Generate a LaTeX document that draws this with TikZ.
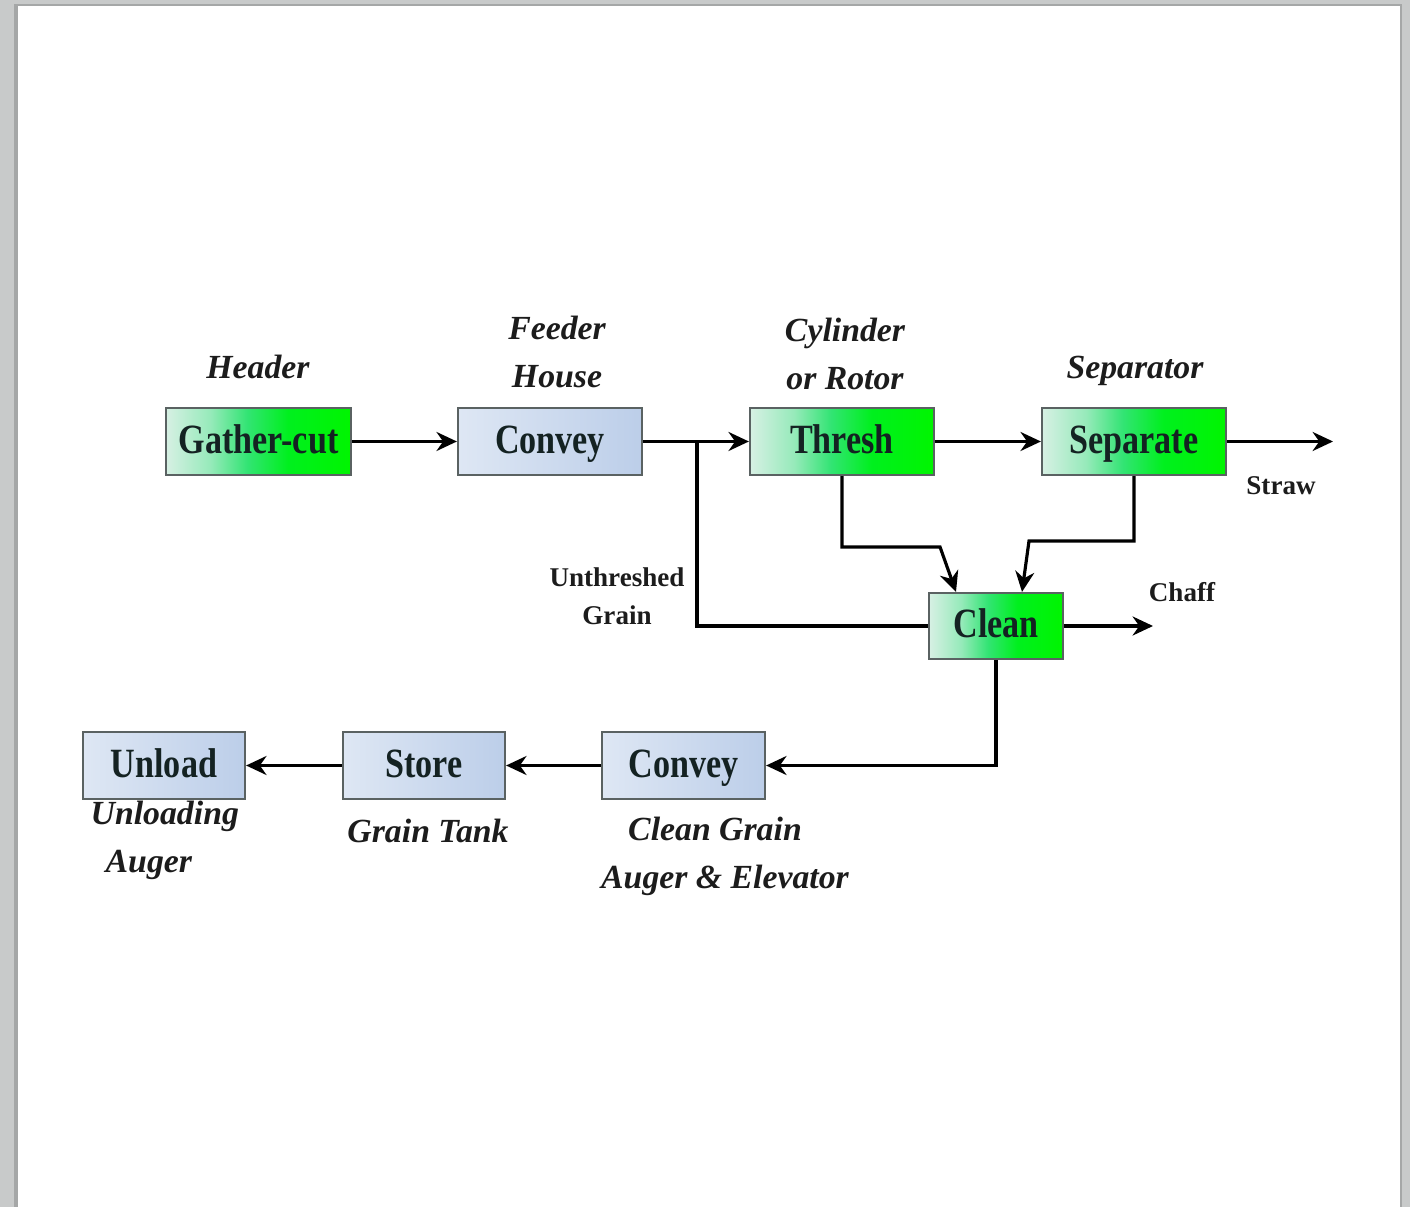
\documentclass[tikz,border=0pt]{standalone}
\usepackage{fontspec}
\usepackage{graphicx}
\setmainfont{Liberation Serif}
\usetikzlibrary{arrows.meta,calc}
\definecolor{pagegray}{RGB}{200,202,202}
\definecolor{shadowgray}{RGB}{165,167,167}
\definecolor{gA}{RGB}{215,240,228}
\definecolor{gB}{RGB}{150,234,186}
\definecolor{gC}{RGB}{50,228,115}
\definecolor{gD}{RGB}{0,240,30}
\definecolor{gE}{RGB}{0,245,0}
\definecolor{bL}{RGB}{222,231,244}
\definecolor{bR}{RGB}{188,206,233}
\definecolor{boxline}{RGB}{90,98,98}
\definecolor{boxtext}{RGB}{20,34,34}
\definecolor{labtext}{RGB}{28,28,28}
\pgfdeclarehorizontalshading{greenfill}{100bp}{color(0bp)=(gA); color(25bp)=(gA); color(37bp)=(gB); color(47bp)=(gC); color(58bp)=(gD); color(75bp)=(gE); color(100bp)=(gE)}
\newcommand{\tallbox}[1]{\scalebox{1}[1.22]{#1}}
\tikzset{
  procbox/.style={draw=boxline, line width=0.6pt, inner sep=0pt, text=boxtext,
    font=\bfseries\fontsize{9.7}{11}\selectfont, minimum height=0.67cm,
    text height=0.31cm, text depth=0.08cm},
  greenbox/.style={procbox, shading=greenfill},
  bluebox/.style={procbox, left color=bL, right color=bR},
  itlabel/.style={align=center, text=labtext, inner sep=0pt,
    font=\bfseries\itshape\fontsize{9.6}{13.7}\selectfont},
  smlabel/.style={align=center, text=labtext, inner sep=0pt,
    font=\bfseries\fontsize{7.7}{10.8}\selectfont},
  flow/.style={line width=0.9pt, draw=black, -{Stealth[length=5.8pt,width=5.4pt]}},
  plainflow/.style={line width=0.9pt, draw=black}
}
\begin{document}
\begin{tikzpicture}[x=0.01cm, y=-0.01cm]
\useasboundingbox (0,0) rectangle (1410,1207);
% page background
\fill[pagegray] (0,0) rectangle (1410,1207);
\fill[shadowgray] (14,4) rectangle (1402,1207);
\fill[white] (18,6) rectangle (1400,1207);

% top row boxes
\node[greenbox, minimum width=1.85cm] (gather) at (258.5,441.5) {\tallbox{Gather-cut}};
\node[bluebox, minimum width=1.84cm] (convey1) at (550,441.5) {\tallbox{Convey}};
\node[greenbox, minimum width=1.84cm] (thresh) at (842,441.5) {\tallbox{Thresh}};
\node[greenbox, minimum width=1.84cm] (separate) at (1134,441.5) {\tallbox{Separate}};
\node[greenbox, minimum width=1.34cm, minimum height=0.66cm] (clean) at (996,626) {\tallbox{Clean}};

% bottom row boxes
\node[bluebox, minimum width=1.62cm] (unload) at (164,765.5) {\tallbox{Unload}};
\node[bluebox, minimum width=1.62cm] (store) at (424,765.5) {\tallbox{Store}};
\node[bluebox, minimum width=1.63cm] (convey2) at (683.5,765.5) {\tallbox{Convey}};

% labels
\node[itlabel] (lheader) at (258,367) {Header};
\node[itlabel] (lfeeder) at (557,352) {Feeder\\House};
\node[itlabel] (lcyl) at (845,354) {Cylinder\\or Rotor};
\node[itlabel] (lsep) at (1135,371) {Separator};
\node[smlabel] (lstraw) at (1281,486) {Straw};
\node[smlabel] (lunthr) at (617,596) {Unthreshed\\Grain};
\node[smlabel] (lchaff) at (1182,592) {Chaff};
\node[itlabel, align=left, anchor=west] (lunload) at (90,840) {Unloading\\\hspace*{0.15cm}Auger};
\node[itlabel] (ltank) at (428,831) {Grain Tank};
\node[itlabel] (lclean) at (715,856) {Clean Grain\\\hspace*{0.2cm}Auger \& Elevator};

% free ends
\coordinate (strawend) at (1333,441.5);
\coordinate (chaffend) at (1153,626);
\coordinate (branch) at (697,441.5);

% connectors
\draw[flow] (gather) -- (convey1);
\draw[flow] (convey1) -- (thresh);
\draw[plainflow] (branch) |- (clean.west);
\draw[flow] (thresh) -- (separate);
\draw[flow] (separate.east) -- (strawend);
\draw[flow] (thresh.south) |- ($(clean.north)+(-56,-45)$) -- ($(clean.north)+(-40,0)$);
\draw[flow] (separate.south) |- ($(clean.north)+(33,-51)$) -- ($(clean.north)+(26,0)$);
\draw[flow] (clean.east) -- (chaffend);
\draw[flow] (clean.south) |- (convey2.east);
\draw[flow] (convey2) -- (store);
\draw[flow] (store) -- (unload);
\end{tikzpicture}
\end{document}
